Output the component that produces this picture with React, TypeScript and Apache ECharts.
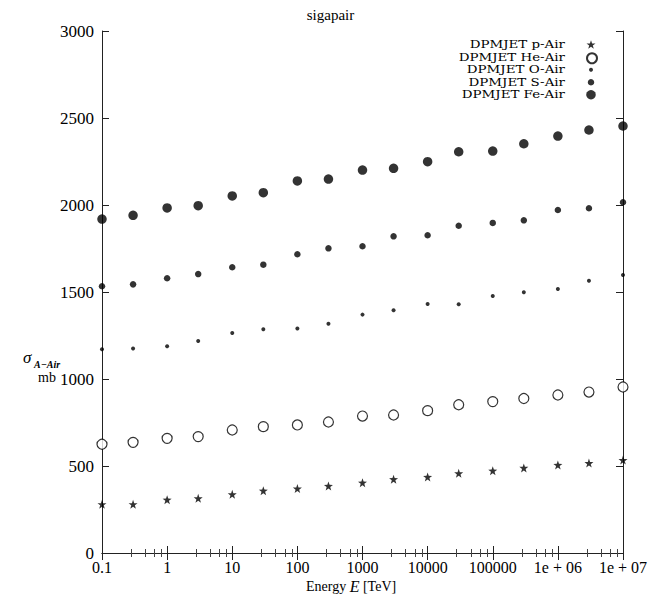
import React, { useEffect, useRef } from "react";
import * as echarts from "echarts";

// Beam energy grid (TeV), shared by every series
const energies = [0.1, 0.3, 1, 3, 10, 30, 100, 300, 1000, 3000, 1e4, 3e4, 1e5, 3e5, 1e6, 3e6, 1e7];

// Inelastic cross sections (mb) from DPMJET for each projectile on air
const pAir = [280, 280, 306, 314, 337, 358, 370, 385, 404, 424, 437, 458, 473, 489, 506, 517, 534];
const heAir = [625, 636, 659, 669, 707, 726, 736, 753, 787, 793, 818, 852, 870, 888, 908, 925, 954];
const oAir = [1171, 1175, 1188, 1218, 1264, 1286, 1290, 1318, 1370, 1395, 1431, 1429, 1477, 1498, 1517, 1565, 1598];
const sAir = [1533, 1544, 1579, 1603, 1642, 1657, 1717, 1751, 1763, 1820, 1826, 1881, 1897, 1912, 1971, 1981, 2016];
const feAir = [1919, 1941, 1983, 1996, 2052, 2071, 2138, 2149, 2201, 2211, 2249, 2306, 2310, 2352, 2396, 2431, 2454];

const seriesNames = ["DPMJET p-Air", "DPMJET He-Air", "DPMJET O-Air", "DPMJET S-Air", "DPMJET Fe-Air"];

const STAR =
  "path://M0,-10L2.35,-3.24L9.51,-3.09L3.8,1.24L5.88,8.09L0,4L-5.88,8.09L-3.8,1.24L-9.51,-3.09L-2.35,-3.24Z";

const SERIF = "Liberation Serif";
const KEY_FONT = "DejaVu Serif";

function pairs(values: number[]) {
  return energies.map((e, i) => [e, values[i]]);
}

function logLabel(v: number) {
  const exp = Math.round(Math.log10(v));
  if (exp >= 6) return `1e + 0${exp}`;
  if (exp < 0) return "0.1";
  return String(Math.pow(10, exp));
}

export default function App() {
  const ref = useRef<HTMLDivElement>(null);

  useEffect(() => {
    if (!ref.current) return;
    const chart = echarts.init(ref.current, undefined, { renderer: "svg" });

    const axisLine = { show: true, lineStyle: { color: "#222", width: 1 } };

    const xBase = {
      type: "log" as const,
      logBase: 10,
      min: 0.1,
      max: 1e7,
      splitNumber: 8,
      axisLine,
      axisTick: { show: true, inside: true, length: 7, lineStyle: { color: "#222" } },
      minorTick: { show: true, splitNumber: 5, length: 4, lineStyle: { color: "#444" } },
      splitLine: { show: false },
      minorSplitLine: { show: false },
    };

    const yBase = {
      type: "value" as const,
      min: 0,
      max: 3000,
      interval: 500,
      axisLine,
      axisTick: { show: true, inside: true, length: 7, lineStyle: { color: "#222" } },
      splitLine: { show: false },
    };

    const symbolSpec = [
      { symbol: STAR, size: 9, style: { color: "#000" } },
      { symbol: "circle", size: 10, style: { color: "#fff", borderColor: "#000", borderWidth: 1.2 } },
      { symbol: "circle", size: 4, style: { color: "#000" } },
      { symbol: "circle", size: 6.5, style: { color: "#000" } },
      { symbol: "circle", size: 9.5, style: { color: "#000" } },
    ];
    const valueSets = [pAir, heAir, oAir, sAir, feAir];

    // key layout: symbol column centred at x = 591, text ending at x = 565
    const keyX = 591;
    const keyTextRight = 565;
    const keyTop = 38.5;
    const keyRow = 12.5;
    const keyStretch = 1.22;

    chart.setOption({
      animation: false,
      backgroundColor: "#fff",
      title: {
        text: "sigapair",
        left: "center",
        top: 2,
        textStyle: { fontFamily: SERIF, fontSize: 15, fontWeight: "normal", color: "#000" },
      },
      grid: { left: 102, right: 38, top: 31, bottom: 41, containLabel: false },
      xAxis: [
        {
          ...xBase,
          position: "bottom",
          axisLabel: {
            show: true,
            formatter: logLabel,
            fontFamily: SERIF,
            fontSize: 16,
            lineHeight: 16,
            color: "#000",
            margin: 6,
          },
        },
        { ...xBase, position: "top", axisLabel: { show: false } },
      ],
      yAxis: [
        {
          ...yBase,
          position: "left",
          axisLabel: {
            show: true,
            formatter: (v: number) => String(v),
            fontFamily: SERIF,
            fontSize: 17,
            color: "#000",
            margin: 8,
          },
        },
        { ...yBase, position: "right", axisLabel: { show: false } },
      ],
      // one legend per series so each key symbol keeps its own size;
      // the series names are set as one text block beside them
      legend: seriesNames.map((name, i) => {
        const s = symbolSpec[i].size;
        const centre = keyTop + keyRow * (i + 0.5);
        return {
          data: [name],
          orient: "vertical",
          left: keyX - s / 2,
          top: centre - s / 2,
          align: "left",
          padding: 0,
          itemGap: 0,
          itemWidth: s,
          itemHeight: s,
          selectedMode: false,
          formatter: () => "",
          textStyle: { fontSize: 1, lineHeight: 1 },
        };
      }),
      series: seriesNames.map((name, i) => ({
        name,
        type: "scatter",
        data: pairs(valueSets[i]),
        symbol: symbolSpec[i].symbol,
        symbolSize: symbolSpec[i].size,
        itemStyle: symbolSpec[i].style,
        clip: false,
        z: 5,
      })),
      graphic: [
        {
          type: "text",
          x: keyTextRight,
          y: keyTop,
          scaleX: keyStretch,
          style: {
            x: 0,
            y: 0,
            text: seriesNames.join("\n"),
            fontFamily: KEY_FONT,
            fontSize: 11,
            lineHeight: keyRow,
            align: "right",
            verticalAlign: "top",
            fill: "#000",
          },
        },
        {
          type: "text",
          left: 306,
          top: 578,
          style: {
            text: "{n|Energy }{e|E}{n| [TeV]}",
            rich: {
              n: { fontFamily: SERIF, fontSize: 14, lineHeight: 15, fill: "#000" },
              e: { fontFamily: SERIF, fontSize: 16, lineHeight: 15, fontStyle: "italic", fill: "#000" },
            },
          },
        },
        {
          type: "text",
          left: 23,
          top: 349,
          style: { text: "σ", fontFamily: SERIF, fontStyle: "italic", fontSize: 17, fill: "#000" },
        },
        {
          type: "text",
          left: 34,
          top: 359,
          style: {
            text: "A−Air",
            fontFamily: SERIF,
            fontStyle: "italic",
            fontWeight: "bold",
            fontSize: 10,
            fill: "#000",
          },
        },
        {
          type: "text",
          left: 38,
          top: 370,
          style: { text: "mb", fontFamily: SERIF, fontSize: 14, fill: "#000" },
        },
      ],
    });

    return () => chart.dispose();
  }, []);

  return <div ref={ref} style={{ width: 661, height: 594, position: "absolute", left: 0, top: 0 }} />;
}
